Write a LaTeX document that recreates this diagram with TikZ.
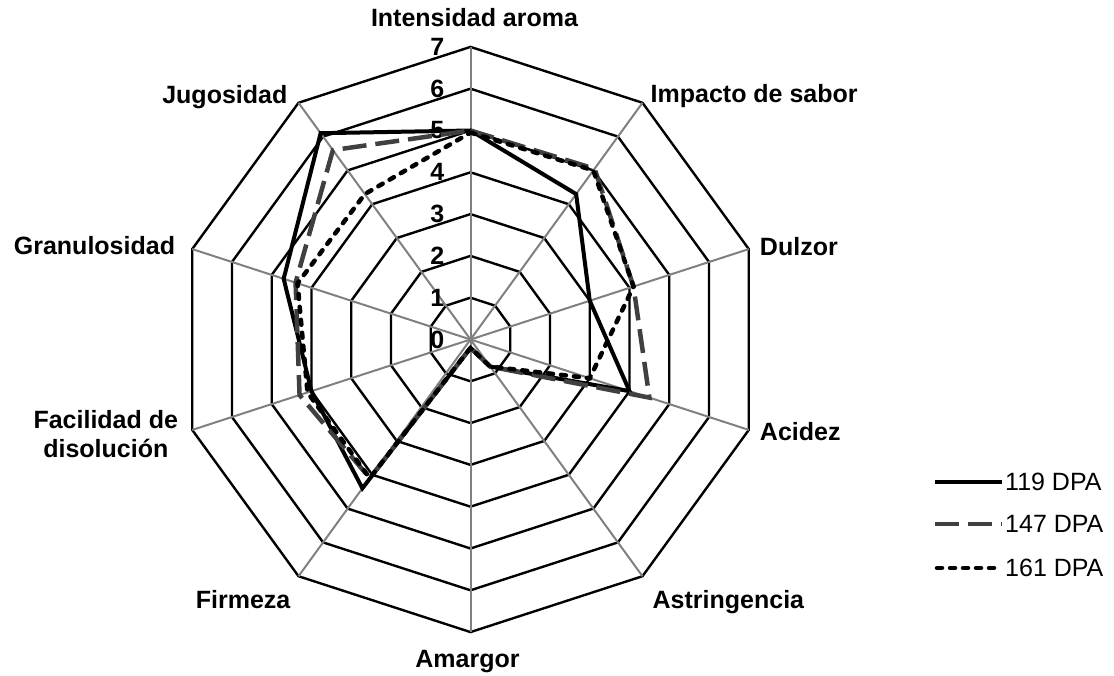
\documentclass[tikz,border=0pt]{standalone}
\usepackage{fontspec}
\setmainfont{Liberation Sans}
\usetikzlibrary{positioning,calc}
\definecolor{dashgray}{HTML}{404040}
\tikzset{
    grid/.style={black,line width=2.4pt},
    spoke/.style={gray,line width=2pt},
    axlabel/.style={font=\bfseries\fontsize{25}{29}\selectfont,inner sep=0pt},
    tick/.style={font=\bfseries\fontsize{25}{29}\selectfont,inner sep=0pt},
    legtext/.style={font=\fontsize{25}{29}\selectfont,inner sep=0pt,anchor=west},
    s119/.style={black,line width=4pt,line join=miter},
    s147/.style={dashgray,line width=4.5pt,dash pattern=on 24pt off 9pt},
    s161/.style={black,line width=4.5pt,line cap=round,dash pattern=on 5pt off 8pt}
}

\begin{document}
\begin{tikzpicture}[x=1pt,y=1pt]

    \useasboundingbox (0,0) rectangle (1114,675);

    \begin{scope}[shift={(470.5,335.5)},x=41.8pt,y=41.8pt]

        \coordinate (ctr) at (0,0);
        \foreach \k in {0,...,9}
            \coordinate (ax\k) at ({90-36*\k}:7);

        % grid
        \foreach \lv in {1,...,7}
            \draw[grid] (90:\lv) \foreach \k in {1,...,9} { -- ({90-36*\k}:\lv) } -- cycle;
        \foreach \k in {0,...,9}
            \draw[spoke] (ctr) -- (ax\k);

        % scale
        \foreach \lv in {0,...,7}
            \node[tick,left=26pt] at (0,\lv) {\lv};

        % series
        \draw[s119] (90:5.0) -- (54:4.3) -- (18:3.0) -- (-18:4.0) -- (-54:0.8) -- (-90:0.2)
            -- (-126:4.4) -- (-162:4.0) -- (162:4.7) -- (126:6.1) -- cycle;
        \draw[s147] (90:5.0) -- (54:5.05) -- (18:4.1) -- (-18:4.5) -- (-54:0.8) -- (-90:0.2)
            -- (-126:4.1) -- (-162:4.3) -- (162:4.4) -- (126:5.6) -- cycle;
        \draw[s161] (90:4.95) -- (54:5.0) -- (18:4.1) -- (-18:3.0) -- (-54:0.8) -- (-90:0.2)
            -- (-126:4.1) -- (-162:4.1) -- (162:4.35) -- (126:4.3) -- cycle;

        % axis labels
        \node[axlabel,anchor=base] (lab0) at ($(ax0)+(4pt,20pt)$) {Intensidad aroma};
        \node[axlabel,anchor=base west] (lab1) at ($(ax1)+(8pt,0pt)$) {Impacto de sabor};
        \node[axlabel,anchor=base west] (lab2) at ($(ax2)+(11pt,-6pt)$) {Dulzor};
        \node[axlabel,anchor=base west] (lab3) at ($(ax3)+(11pt,-11pt)$) {Acidez};
        \node[axlabel,anchor=base west] (lab4) at ($(ax4)+(10pt,-32pt)$) {Astringencia};
        \node[axlabel,anchor=base] (lab5) at ($(ax5)+(-3pt,-35pt)$) {Amargor};
        \node[axlabel,anchor=base east] (lab6) at ($(ax6)+(-8pt,-32pt)$) {Firmeza};
        \node[axlabel,anchor=north east,align=center] (lab7) at ($(ax7)+(-14pt,20pt)$) {Facilidad de\\disolución};
        \node[axlabel,anchor=base east] (lab8) at ($(ax8)+(-17pt,-5pt)$) {Granulosidad};
        \node[axlabel,anchor=base east] (lab9) at ($(ax9)+(-11pt,-1pt)$) {Jugosidad};

    \end{scope}

    % legend
    \coordinate (l1a) at (935,193);  \coordinate (l1b) at (1002,193);
    \coordinate (l2a) at (935,151);  \coordinate (l2b) at (1002,151);
    \coordinate (l3a) at (937,107);  \coordinate (l3b) at (1000,107);
    \draw[s119] (l1a) -- (l1b);
    \draw[s147] (l2a) -- (l2b);
    \draw[s161] (l3a) -- (l3b);
    \node[legtext] (leg1) at (1005,193) {119 DPA};
    \node[legtext] (leg2) at (1005,151) {147 DPA};
    \node[legtext] (leg3) at (1005,107) {161 DPA};

\end{tikzpicture}
\end{document}
